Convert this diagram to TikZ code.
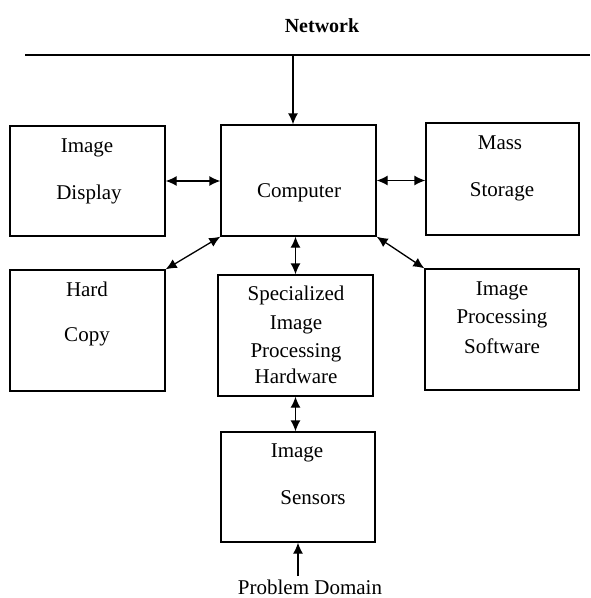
\documentclass[tikz,border=0pt]{standalone}
\usepackage{fontspec}
\setmainfont{Liberation Serif}
\usetikzlibrary{arrows.meta,calc}
\begin{document}
\begin{tikzpicture}[x=1pt,y=-1pt,
  box/.style={draw,line width=1.3pt,inner sep=0pt,minimum width=#1},
  lbl/.style={font=\fontsize{21}{24}\selectfont,inner sep=0pt,anchor=base},
  link/.style={line width=1.3pt,{Latex[length=11pt,width=10pt]}-{Latex[length=11pt,width=10pt]}},
  oneway/.style={line width=1.3pt,-{Latex[length=11pt,width=10pt]}}]
\useasboundingbox (0,0) rectangle (590,598);
% boxes
\node[box=155pt,minimum height=110pt] (disp) at (87.5,181) {};
\node[box=155pt,minimum height=111pt] (comp) at (298.5,180.5) {};
\node[box=153pt,minimum height=112pt] (mass) at (502.5,179) {};
\node[box=155pt,minimum height=121pt] (hard) at (87.5,330.5) {};
\node[box=155pt,minimum height=121pt] (spec) at (295.5,335.5) {};
\node[box=154pt,minimum height=121pt] (soft) at (502,329.5) {};
\node[box=154pt,minimum height=110pt] (sens) at (298,487) {};
% labels
\node[lbl,font=\fontsize{20}{22}\selectfont\bfseries] (net) at (322,32) {Network};
\node[lbl] (t1) at (87,152) {Image};
\node[lbl] (t2) at (89,199) {Display};
\node[lbl] (t3) at (299,197) {Computer};
\node[lbl] (t4) at (500,149) {Mass};
\node[lbl] (t5) at (502,196) {Storage};
\node[lbl] (t6) at (87,296) {Hard};
\node[lbl] (t7) at (87,341) {Copy};
\node[lbl] (t8) at (296,300) {Specialized};
\node[lbl] (t9) at (296,329) {Image};
\node[lbl] (t10) at (296,357) {Processing};
\node[lbl] (t11) at (296,383) {Hardware};
\node[lbl] (t12) at (502,295) {Image};
\node[lbl] (t13) at (502,323) {Processing};
\node[lbl] (t14) at (502,353) {Software};
\node[lbl] (t15) at (297,457) {Image};
\node[lbl] (t16) at (313,504) {Sensors};
\node[lbl] (pd) at (310,594) {Problem Domain};
% network line
\coordinate (nl) at (25,55);
\coordinate (nr) at (590,55);
\coordinate (np) at (293,55);
\draw[line width=1.3pt] (nl) -- (nr);
\draw[oneway] (np) -- (np |- comp.north);
% links
\draw[link] (disp.east) -- (disp.east -| comp.west);
\draw[link] (comp.east) -- (comp.east -| mass.west);
\draw[link] (comp.south west) -- (hard.north east);
\draw[link] (comp.south east) -- (soft.north west);
\draw[link] (spec.north |- comp.south) -- (spec.north);
\draw[link] (spec.south) -- (spec.south |- sens.north);
\coordinate (pa) at (298,576);
\draw[oneway] (pa) -- (pa |- sens.south);
\end{tikzpicture}
\end{document}
